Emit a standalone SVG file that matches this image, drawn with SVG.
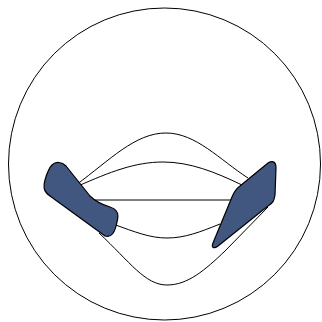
<svg xmlns="http://www.w3.org/2000/svg" width="322" height="322" viewBox="0 0 322 322">
<style>
.c{fill:none;stroke:#000;stroke-width:1}
.s{fill:#41577f;stroke:#000;stroke-width:1.2;stroke-linejoin:round}
</style>
<rect width="322" height="322" fill="#fff"/>
<circle cx="164.5" cy="164" r="156" class="c"/>
<g id="connectors">
<path class="c" d="M76,185 C110,160 135,133 166,133 C196,133 220,160 248,178"/>
<path class="c" d="M78,186 C110,172 135,162 163,162 C190,162 215,172 242,185"/>
<path class="c" d="M93,200 H232"/>
<path class="c" d="M113,224 C135,232 150,238 167,238 C185,238 200,232 220,224"/>
<path class="c" d="M99,233 C130,262 145,285 167,285 C188,285 205,270 225,251 L268,207"/>
</g>
<g id="left">
<path class="s" d="M52,165 C56,161 62,162 66,166 L90,196 C95,201 100,204 110,207 C118,210 119,214 117,222 C115,232 112,238 105,236 L50,196 C44,192 43,188 45,180 C47,173 49,168 52,165 Z"/>
</g>
<g id="right">
<path class="s" d="M268,163 C273,160 276,162 276,168 L275,195 C274,201 273,203 268,206 L218,246 C214,249 211,248 213,243 L232,197 C234,192 236,189 240,186 Z"/>
</g>
</svg>
